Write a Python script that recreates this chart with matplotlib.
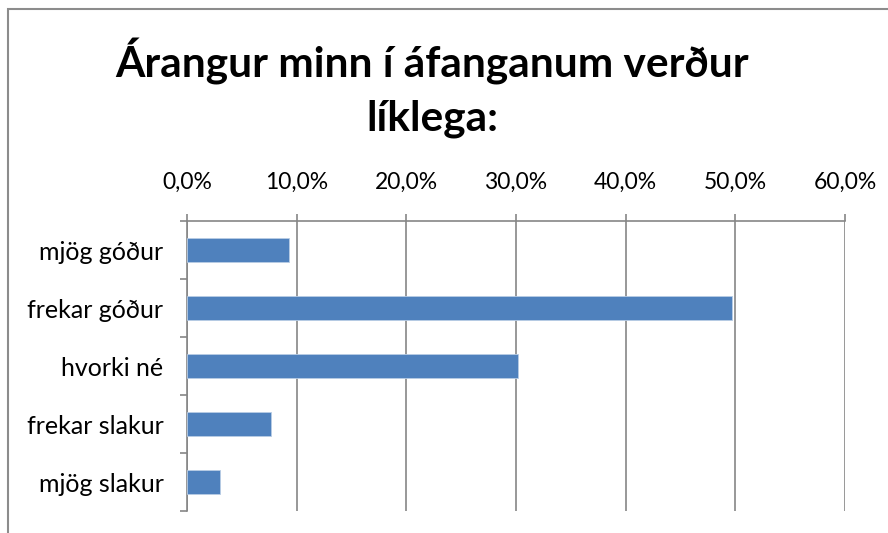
import matplotlib

matplotlib.use("Agg")
import matplotlib.pyplot as plt
from matplotlib.patches import Rectangle
from matplotlib.ticker import FuncFormatter

categories = ["mjög góður", "frekar góður", "hvorki né", "frekar slakur", "mjög slakur"]
values = [9.3, 49.7, 30.2, 7.7, 3.0]
ticks = [0, 10, 20, 30, 40, 50, 60]
title = "Árangur minn í áfanganum verður\nlíklega:"

plt.rcParams["font.family"] = ["Lato", "DejaVu Sans"]
grey = "#868686"

fig = plt.figure(figsize=(8.88, 5.33), dpi=100)
fig.patches.append(
    Rectangle((8 / 888, -0.1), 1.2, 1 - 9 / 533 + 0.1, transform=fig.transFigure,
              fill=False, edgecolor="#8c8c8c", linewidth=1.5)
)
ax = fig.add_axes([187 / 888, 1 - 511 / 533, 658 / 888, 290 / 533])

pos = list(range(len(categories)))
ax.barh(pos, values, height=0.4, color="#4f81bd", edgecolor="#b9cde5", linewidth=0.6, zorder=3)
ax.set_ylim(len(categories) - 0.5, -0.5)
ax.set_xlim(0, 60)
ax.set_xticks(ticks)
ax.xaxis.set_major_formatter(FuncFormatter(lambda v, _: f"{v:.1f}%".replace(".", ",")))
ax.xaxis.tick_top()
ax.tick_params(axis="x", direction="out", length=5, width=1.2, color=grey, pad=15,
               labelsize=16.5, labelcolor="black")
ax.set_yticks([p - 0.5 for p in pos] + [len(categories) - 0.5])
ax.set_yticklabels([])
ax.set_yticks(pos, minor=True)
ax.set_yticklabels(categories, minor=True)
ax.tick_params(axis="y", which="major", direction="out", length=5, width=1.2, color=grey)
ax.tick_params(axis="y", which="minor", length=0, pad=17, labelsize=18)
ax.grid(axis="x", color=grey, linewidth=1.2, zorder=0)
for side in ["right", "bottom"]:
    ax.spines[side].set_visible(False)
for side in ["left", "top"]:
    ax.spines[side].set_color(grey)
    ax.spines[side].set_linewidth(1.2)

fig.text(432 / 888, 1 - 88 / 533, title, ha="center", va="center", fontsize=30.5,
         fontweight="bold", linespacing=1.45)

fig.savefig("out.png", dpi=100)
